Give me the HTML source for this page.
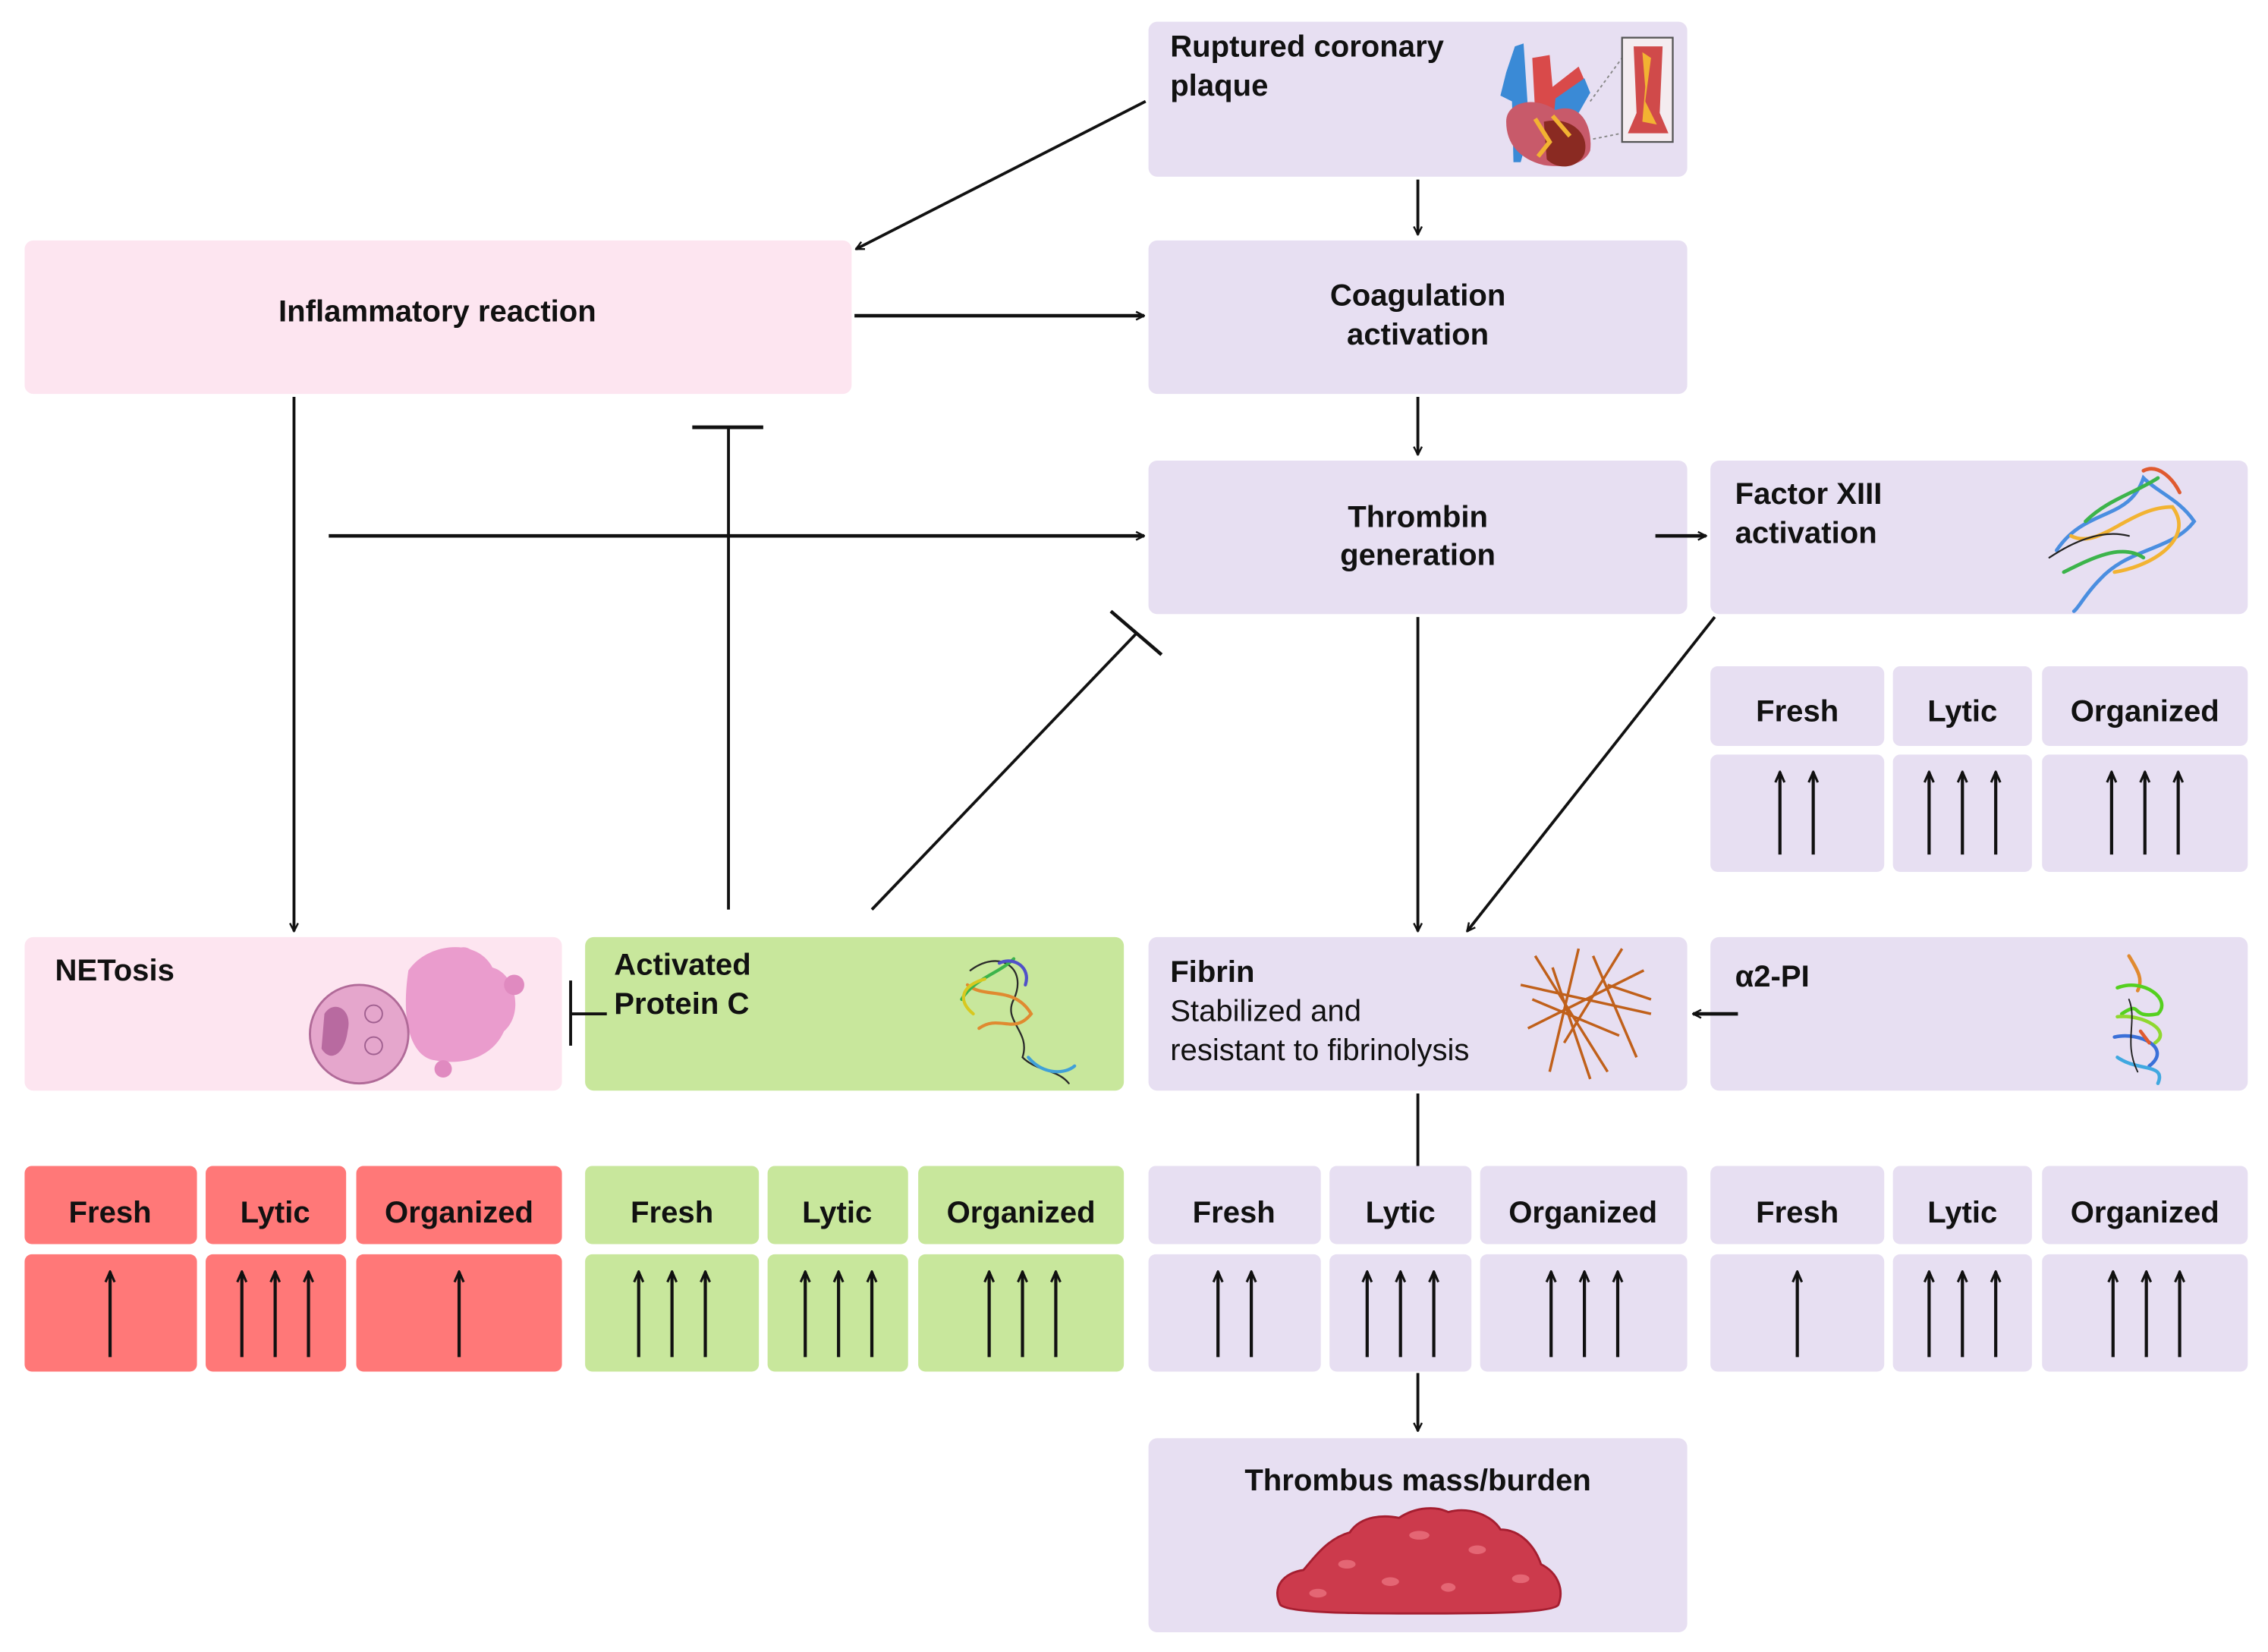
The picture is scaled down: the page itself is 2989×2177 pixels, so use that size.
<!DOCTYPE html>
<html><head><meta charset="utf-8"><style>
html,body{margin:0;padding:0;background:#fff;width:2989px;height:2177px;overflow:hidden}
svg{display:block}
text{font-family:"Liberation Sans",sans-serif;font-weight:bold;fill:#111}
</style></head><body>
<svg width="2989" height="2177" viewBox="0 0 1566 1140.6" preserveAspectRatio="none" xmlns="http://www.w3.org/2000/svg">
<defs>
<marker id="a" viewBox="0 0 10 10" refX="9" refY="5" markerWidth="7" markerHeight="7" orient="auto" markerUnits="userSpaceOnUse"><path d="M1,1 L9,5 L1,9" fill="none" stroke="#111" stroke-width="1.8"/></marker>
<marker id="u" viewBox="0 0 10 10" refX="9" refY="5" markerWidth="9" markerHeight="9" orient="auto" markerUnits="userSpaceOnUse"><path d="M1,1.5 L9,5 L1,8.5" fill="none" stroke="#111" stroke-width="1.8"/></marker>
</defs>
<g>
<!-- main boxes -->
<rect x="793" y="15" width="372" height="107" rx="6" fill="#e7dff2"/>
<rect x="17" y="166" width="571" height="106" rx="6" fill="#fde5f0"/>
<rect x="793" y="166" width="372" height="106" rx="6" fill="#e7dff2"/>
<rect x="793" y="318" width="372" height="106" rx="6" fill="#e7dff2"/>
<rect x="1181" y="318" width="371" height="106" rx="6" fill="#e7dff2"/>
<rect x="17" y="647" width="371" height="106" rx="6" fill="#fde5f0"/>
<rect x="404" y="647" width="372" height="106" rx="6" fill="#c8e79c"/>
<rect x="793" y="647" width="372" height="106" rx="6" fill="#e7dff2"/>
<rect x="1181" y="647" width="371" height="106" rx="6" fill="#e7dff2"/>
<rect x="793" y="993" width="372" height="134" rx="6" fill="#e7dff2"/>

<!-- tables FXIII -->
<g fill="#e7dff2">
<rect x="1181" y="460" width="120" height="55" rx="5"/><rect x="1307" y="460" width="96" height="55" rx="5"/><rect x="1410" y="460" width="142" height="55" rx="5"/>
<rect x="1181" y="521" width="120" height="81" rx="5"/><rect x="1307" y="521" width="96" height="81" rx="5"/><rect x="1410" y="521" width="142" height="81" rx="5"/>
</g>
<!-- NET -->
<g fill="#ff7878">
<rect x="17" y="805" width="119" height="54" rx="5"/><rect x="142" y="805" width="97" height="54" rx="5"/><rect x="246" y="805" width="142" height="54" rx="5"/>
<rect x="17" y="866" width="119" height="81" rx="5"/><rect x="142" y="866" width="97" height="81" rx="5"/><rect x="246" y="866" width="142" height="81" rx="5"/>
</g>
<g fill="#c8e79c">
<rect x="404" y="805" width="120" height="54" rx="5"/><rect x="530" y="805" width="97" height="54" rx="5"/><rect x="634" y="805" width="142" height="54" rx="5"/>
<rect x="404" y="866" width="120" height="81" rx="5"/><rect x="530" y="866" width="97" height="81" rx="5"/><rect x="634" y="866" width="142" height="81" rx="5"/>
</g>
<g fill="#e7dff2">
<rect x="793" y="805" width="119" height="54" rx="5"/><rect x="918" y="805" width="98" height="54" rx="5"/><rect x="1022" y="805" width="143" height="54" rx="5"/>
<rect x="793" y="866" width="119" height="81" rx="5"/><rect x="918" y="866" width="98" height="81" rx="5"/><rect x="1022" y="866" width="143" height="81" rx="5"/>
<rect x="1181" y="805" width="120" height="54" rx="5"/><rect x="1307" y="805" width="96" height="54" rx="5"/><rect x="1410" y="805" width="142" height="54" rx="5"/>
<rect x="1181" y="866" width="120" height="81" rx="5"/><rect x="1307" y="866" width="96" height="81" rx="5"/><rect x="1410" y="866" width="142" height="81" rx="5"/>
</g>

<!-- header text -->
<g font-size="21" text-anchor="middle">
<text x="1241" y="498">Fresh</text><text x="1355" y="498">Lytic</text><text x="1481" y="498">Organized</text>
<text x="76" y="844">Fresh</text><text x="190" y="844">Lytic</text><text x="317" y="844">Organized</text>
<text x="464" y="844">Fresh</text><text x="578" y="844">Lytic</text><text x="705" y="844">Organized</text>
<text x="852" y="844">Fresh</text><text x="967" y="844">Lytic</text><text x="1093" y="844">Organized</text>
<text x="1241" y="844">Fresh</text><text x="1355" y="844">Lytic</text><text x="1481" y="844">Organized</text>
</g>

<!-- up arrows -->
<g stroke="#111" stroke-width="2.2" marker-end="url(#u)">
<line x1="1229" y1="590" x2="1229" y2="533"/><line x1="1252" y1="590" x2="1252" y2="533"/>
<line x1="1332" y1="590" x2="1332" y2="533"/><line x1="1355" y1="590" x2="1355" y2="533"/><line x1="1378" y1="590" x2="1378" y2="533"/>
<line x1="1458" y1="590" x2="1458" y2="533"/><line x1="1481" y1="590" x2="1481" y2="533"/><line x1="1504" y1="590" x2="1504" y2="533"/>

<line x1="76" y1="937" x2="76" y2="878"/>
<line x1="167" y1="937" x2="167" y2="878"/><line x1="190" y1="937" x2="190" y2="878"/><line x1="213" y1="937" x2="213" y2="878"/>
<line x1="317" y1="937" x2="317" y2="878"/>

<line x1="441" y1="937" x2="441" y2="878"/><line x1="464" y1="937" x2="464" y2="878"/><line x1="487" y1="937" x2="487" y2="878"/>
<line x1="556" y1="937" x2="556" y2="878"/><line x1="579" y1="937" x2="579" y2="878"/><line x1="602" y1="937" x2="602" y2="878"/>
<line x1="683" y1="937" x2="683" y2="878"/><line x1="706" y1="937" x2="706" y2="878"/><line x1="729" y1="937" x2="729" y2="878"/>

<line x1="841" y1="937" x2="841" y2="878"/><line x1="864" y1="937" x2="864" y2="878"/>
<line x1="944" y1="937" x2="944" y2="878"/><line x1="967" y1="937" x2="967" y2="878"/><line x1="990" y1="937" x2="990" y2="878"/>
<line x1="1071" y1="937" x2="1071" y2="878"/><line x1="1094" y1="937" x2="1094" y2="878"/><line x1="1117" y1="937" x2="1117" y2="878"/>

<line x1="1241" y1="937" x2="1241" y2="878"/>
<line x1="1332" y1="937" x2="1332" y2="878"/><line x1="1355" y1="937" x2="1355" y2="878"/><line x1="1378" y1="937" x2="1378" y2="878"/>
<line x1="1459" y1="937" x2="1459" y2="878"/><line x1="1482" y1="937" x2="1482" y2="878"/><line x1="1505" y1="937" x2="1505" y2="878"/>
</g>

<!-- box labels -->
<g font-size="21">
<text x="808" y="39">Ruptured coronary</text><text x="808" y="66">plaque</text>
<text x="302" y="222" text-anchor="middle">Inflammatory reaction</text>
<text x="979" y="211" text-anchor="middle">Coagulation</text><text x="979" y="238" text-anchor="middle">activation</text>
<text x="979" y="364" text-anchor="middle">Thrombin</text><text x="979" y="390" text-anchor="middle">generation</text>
<text x="1198" y="348">Factor XIII</text><text x="1198" y="375">activation</text>
<text x="38" y="677">NETosis</text>
<text x="424" y="673">Activated</text><text x="424" y="700">Protein C</text>
<text x="808" y="678">Fibrin</text>
<text x="1198" y="681">α2-PI</text>
<text x="979" y="1029" text-anchor="middle">Thrombus mass/burden</text>
</g>
<g font-size="21" style="font-weight:normal">
<text x="808" y="705" style="font-weight:normal">Stabilized and</text>
<text x="808" y="732" style="font-weight:normal">resistant to fibrinolysis</text>
</g>

<!-- connectors -->
<g stroke="#111" stroke-width="2" fill="none">
<line x1="791" y1="70" x2="591" y2="172" marker-end="url(#a)"/>
<line x1="979" y1="124" x2="979" y2="162" marker-end="url(#a)"/>
<line x1="590" y1="218" x2="790" y2="218" marker-end="url(#a)" stroke-width="2.4"/>
<line x1="979" y1="274" x2="979" y2="314" marker-end="url(#a)"/>
<line x1="227" y1="370" x2="790" y2="370" marker-end="url(#a)" stroke-width="2.4"/>
<line x1="1143" y1="370" x2="1178" y2="370" marker-end="url(#a)" stroke-width="2.4"/>
<line x1="203" y1="274" x2="203" y2="643" marker-end="url(#a)"/>
<line x1="503" y1="628" x2="503" y2="295"/><line x1="478" y1="295" x2="527" y2="295" stroke-width="2.6"/>
<line x1="602" y1="628" x2="785" y2="437"/><line x1="767" y1="422" x2="802" y2="452" stroke-width="2.4"/>
<line x1="979" y1="426" x2="979" y2="643" marker-end="url(#a)"/>
<line x1="1184" y1="426" x2="1013" y2="643" marker-end="url(#a)"/>
<line x1="1200" y1="700" x2="1169" y2="700" marker-end="url(#a)" stroke-width="2.4"/>
<line x1="419" y1="700" x2="394" y2="700"/><line x1="394" y1="677" x2="394" y2="722"/>
<line x1="979" y1="755" x2="979" y2="805"/>
<line x1="979" y1="948" x2="979" y2="988" marker-end="url(#a)"/>
</g>

<!-- heart -->
<g>
<path d="M1058,40 L1070,38 L1072,60 L1090,46 L1096,60 L1088,80 L1060,78 Z" fill="#d94a4a"/>
<path d="M1046,32 L1052,30 L1056,90 L1050,112 L1045,112 L1044,70 L1036,66 L1040,50 Z" fill="#3a8ad6"/>
<path d="M1074,68 L1094,54 L1098,64 L1082,92 L1072,90 Z" fill="#3a8ad6"/>
<path d="M1040,84 C1040,70 1060,66 1074,76 C1092,70 1100,88 1098,104 C1094,114 1080,116 1066,114 C1050,110 1040,100 1040,84 Z" fill="#c85a6a"/>
<path d="M1066,84 C1084,80 1098,92 1094,106 C1090,116 1076,118 1068,110 Z" fill="#8a2a22"/>
<path d="M1060,82 L1070,98 L1062,108 M1072,80 L1084,94" stroke="#f2b332" stroke-width="3" fill="none"/>
<line x1="1098" y1="70" x2="1120" y2="40" stroke="#888" stroke-width="1" stroke-dasharray="2,2"/>
<line x1="1100" y1="96" x2="1120" y2="92" stroke="#888" stroke-width="1" stroke-dasharray="2,2"/>
<rect x="1120" y="26" width="35" height="72" fill="#f4ecf0" stroke="#555" stroke-width="1.2"/>
<path d="M1128,32 L1148,32 L1146,78 L1152,92 L1124,92 L1130,78 Z" fill="#d04a4a"/>
<path d="M1134,36 L1140,40 L1136,70 L1144,86 L1134,84 L1136,60 Z" fill="#f2b332"/>
</g>

<!-- FXIII protein -->
<g stroke-width="2.5" fill="none" stroke-linecap="round">
<path d="M1420,380 C1440,350 1470,360 1480,330 C1490,340 1505,345 1515,360 C1500,380 1470,378 1450,400 C1440,410 1435,420 1432,422" stroke="#4a8ee0"/>
<path d="M1430,370 C1450,380 1470,350 1500,350 C1515,370 1490,390 1460,395" stroke="#f2b332"/>
<path d="M1440,360 C1455,345 1475,340 1490,330 M1425,395 C1445,385 1465,375 1480,385" stroke="#3cb44b"/>
<path d="M1480,325 C1490,320 1500,330 1505,340" stroke="#e05a30"/>
<path d="M1415,385 C1430,375 1450,365 1470,370" stroke="#222" stroke-width="1.2"/>
</g>

<!-- NET cell -->
<g>
<path d="M282,670 C296,650 330,648 340,668 C356,672 362,700 348,712 C340,730 320,736 300,732 C286,730 276,710 282,670 Z" fill="#ea9ccd"/>
<circle cx="320" cy="662" r="8" fill="#ea9ccd"/>
<circle cx="355" cy="680" r="7" fill="#e08ac0"/>
<circle cx="306" cy="738" r="6" fill="#e08ac0"/>
<circle cx="248" cy="714" r="34" fill="#e5a6cc" stroke="#b06a98" stroke-width="1.5"/>
<path d="M224,700 C230,690 244,696 240,712 C238,728 228,734 222,724 Z" fill="#b86aa0"/>
<circle cx="258" cy="700" r="6" fill="none" stroke="#a06090" stroke-width="1"/>
<circle cx="258" cy="722" r="6" fill="none" stroke="#a06090" stroke-width="1"/>
</g>

<!-- APC protein -->
<g stroke-width="2.2" fill="none" stroke-linecap="round">
<path d="M670,670 C690,655 710,668 700,690 C692,705 712,712 706,730 C716,740 730,738 738,748" stroke="#2a2a2a" stroke-width="1.2"/>
<path d="M668,680 C680,690 700,680 712,700 C700,715 690,700 676,710" stroke="#e08a30"/>
<path d="M664,690 C672,676 690,672 700,662" stroke="#3cb44b"/>
<path d="M672,700 C660,690 665,680 680,676" stroke="#d8c820"/>
<path d="M710,730 C720,742 735,742 742,736" stroke="#40a0d8"/>
<path d="M690,665 C700,660 712,668 708,680" stroke="#5050c8"/>
</g>

<!-- fibrin mesh -->
<g stroke="#c0601a" stroke-width="1.8" fill="none">
<path d="M1050,680 L1140,700 M1060,660 L1110,740 M1090,655 L1070,740 M1055,710 L1135,670 M1100,660 L1130,730 M1120,655 L1080,720 M1058,690 L1118,715 M1072,668 L1098,745 M1110,680 L1140,690"/>
</g>

<!-- a2-PI protein -->
<g stroke-width="2.4" fill="none" stroke-linecap="round">
<path d="M1470,660 C1476,670 1480,676 1476,684" stroke="#e08a30"/>
<path d="M1462,682 C1480,675 1500,690 1490,700 C1470,704 1480,690 1465,700" stroke="#55d020"/>
<path d="M1462,702 C1480,700 1500,712 1488,720" stroke="#90d830"/>
<path d="M1460,716 C1478,712 1500,724 1484,736" stroke="#3a70d8"/>
<path d="M1462,730 C1476,740 1496,734 1490,748" stroke="#40a8e0"/>
<path d="M1470,690 C1476,705 1466,720 1476,740" stroke="#222" stroke-width="1"/>
<path d="M1478,712 L1484,720" stroke="#e05a30"/>
</g>

<!-- thrombus -->
<g>
<path d="M884,1108 C878,1096 886,1086 900,1084 C910,1072 918,1062 932,1058 C940,1046 956,1046 966,1048 C978,1040 992,1040 1000,1044 C1014,1040 1030,1046 1036,1056 C1050,1056 1060,1068 1064,1080 C1076,1086 1080,1098 1076,1108 C1072,1114 1020,1114 980,1114 C940,1114 890,1114 884,1108 Z" fill="#cc3a4c" stroke="#a51e30" stroke-width="1.5"/>
<g fill="#e46674">
<ellipse cx="930" cy="1080" rx="6" ry="3"/><ellipse cx="980" cy="1060" rx="7" ry="3"/><ellipse cx="1020" cy="1070" rx="6" ry="3"/>
<ellipse cx="960" cy="1092" rx="6" ry="3"/><ellipse cx="1050" cy="1090" rx="6" ry="3"/><ellipse cx="910" cy="1100" rx="6" ry="3"/><ellipse cx="1000" cy="1096" rx="5" ry="3"/>
</g>
</g>
</g>
</svg>
</body></html>
